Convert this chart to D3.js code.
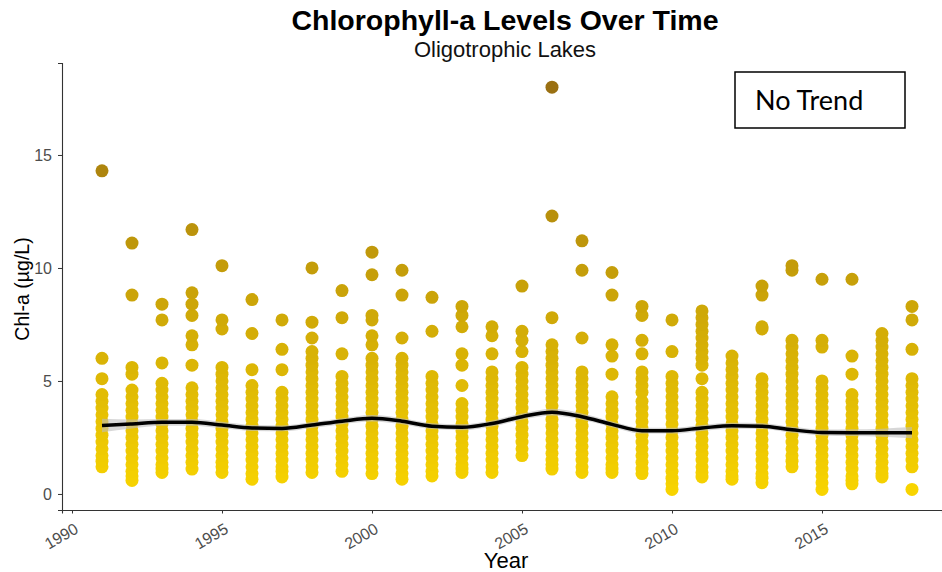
<!DOCTYPE html>
<html><head><meta charset="utf-8">
<script src="https://cdn.jsdelivr.net/npm/d3@7"></script>
<style>body{margin:0;background:#fff}svg{display:block}</style>
</head><body>
<svg id="chart" width="942" height="572"></svg>
<script>
// ---- data ----
const years = [1991,1992,1993,1994,1995,1996,1997,1998,1999,2000,2001,2002,2003,2004,2005,2006,2007,2008,2009,2010,2011,2012,2013,2014,2015,2016,2017,2018];
const chlValues = [
 /*1991*/[14.3,6.0,5.1,4.4,4.1,3.8,3.5,3.2,2.9,2.6,2.3,2.0,1.7,1.45,1.2],
 /*1992*/[11.1,8.8,5.6,5.3,4.6,4.3,4.0,3.7,3.4,3.1,2.8,2.5,2.2,1.9,1.6,1.3,1.0,0.8,0.6],
 /*1993*/[8.4,7.7,5.8,4.9,4.6,4.3,4.0,3.7,3.4,3.1,2.8,2.5,2.2,1.9,1.6,1.3,1.1,0.95],
 /*1994*/[11.7,8.9,8.4,7.9,7.0,6.6,5.7,4.7,4.4,4.1,3.8,3.5,3.2,2.9,2.6,2.3,2.0,1.7,1.4,1.1],
 /*1995*/[10.1,7.7,7.3,5.6,5.3,5.0,4.7,4.4,4.1,3.8,3.5,3.2,2.9,2.6,2.3,2.0,1.7,1.4,1.2,0.95],
 /*1996*/[8.6,7.1,5.5,4.8,4.5,4.2,3.9,3.6,3.3,3.0,2.7,2.4,2.1,1.8,1.5,1.2,0.9,0.65],
 /*1997*/[7.7,6.4,5.5,4.5,4.2,3.9,3.6,3.3,3.0,2.7,2.4,2.1,1.8,1.5,1.2,1.0,0.75],
 /*1998*/[10.0,7.6,6.9,6.3,6.0,5.7,5.4,5.1,4.8,4.5,4.2,3.9,3.6,3.3,3.0,2.7,2.4,2.1,1.8,1.5,1.2,0.95],
 /*1999*/[9.0,7.8,6.2,5.2,4.9,4.6,4.3,4.0,3.7,3.4,3.1,2.8,2.5,2.2,1.9,1.6,1.3,1.0],
 /*2000*/[10.7,9.7,7.9,7.7,7.0,6.6,6.0,5.7,5.4,5.1,4.8,4.5,4.2,3.9,3.6,3.3,3.0,2.7,2.4,2.1,1.8,1.5,1.2,0.9],
 /*2001*/[9.9,8.8,6.9,6.0,5.7,5.4,5.1,4.8,4.5,4.2,3.9,3.6,3.3,3.0,2.7,2.4,2.1,1.8,1.5,1.2,0.9,0.65],
 /*2002*/[8.7,7.2,5.2,4.9,4.6,4.3,4.0,3.7,3.4,3.1,2.8,2.5,2.2,1.9,1.6,1.3,1.0,0.8],
 /*2003*/[8.3,7.9,7.4,6.2,5.7,4.8,4.0,3.7,3.4,3.1,2.8,2.5,2.2,1.9,1.6,1.3,1.1,0.95],
 /*2004*/[7.4,7.0,6.2,5.4,5.1,4.8,4.5,4.2,3.9,3.6,3.3,3.0,2.7,2.4,2.1,1.8,1.5,1.2,0.95],
 /*2005*/[9.2,7.2,6.8,6.3,5.6,5.3,5.0,4.7,4.4,4.1,3.8,3.5,3.2,2.9,2.6,2.3,2.0,1.7],
 /*2006*/[18.0,12.3,7.8,6.6,6.3,6.0,5.7,5.4,5.1,4.8,4.5,4.2,3.9,3.6,3.3,3.0,2.7,2.4,2.1,1.8,1.5,1.3,1.1],
 /*2007*/[11.2,9.9,6.9,5.4,5.1,4.8,4.5,4.2,3.9,3.6,3.3,3.0,2.7,2.4,2.1,1.8,1.5,1.2,0.95],
 /*2008*/[9.8,8.8,6.6,6.1,5.3,4.3,4.0,3.7,3.4,3.1,2.8,2.5,2.2,1.9,1.6,1.3,1.1,0.95],
 /*2009*/[8.3,7.9,6.8,6.2,5.4,5.1,4.8,4.5,4.1,3.8,3.5,3.2,2.9,2.6,2.3,2.0,1.7,1.4,1.1,0.9],
 /*2010*/[7.7,6.3,5.2,4.9,4.6,4.3,4.0,3.7,3.4,3.1,2.8,2.5,2.2,1.9,1.6,1.3,1.0,0.7,0.45,0.2],
 /*2011*/[8.1,7.8,7.5,7.2,6.9,6.6,6.3,6.0,5.7,5.1,4.5,4.2,3.9,3.6,3.3,3.0,2.7,2.4,2.1,1.8,1.5,1.2,0.95,0.75],
 /*2012*/[6.1,5.8,5.5,5.2,4.9,4.6,4.3,4.0,3.7,3.4,3.1,2.8,2.5,2.2,1.9,1.6,1.3,1.0,0.8,0.65],
 /*2013*/[9.2,8.8,7.4,7.3,5.1,4.8,4.5,4.2,3.9,3.6,3.3,3.0,2.7,2.4,2.1,1.8,1.5,1.2,0.9,0.7,0.5],
 /*2014*/[10.1,9.9,6.8,6.5,6.2,5.9,5.6,5.3,5.0,4.7,4.4,4.1,3.8,3.5,3.2,2.9,2.6,2.3,2.0,1.7,1.45,1.2],
 /*2015*/[9.5,6.8,6.5,5.0,4.7,4.4,4.1,3.8,3.5,3.2,2.9,2.6,2.3,2.0,1.7,1.4,1.1,0.8,0.5,0.2],
 /*2016*/[9.5,6.1,5.3,4.4,4.1,3.8,3.5,3.2,2.9,2.6,2.3,2.0,1.7,1.4,1.1,0.8,0.6,0.45],
 /*2017*/[7.1,6.8,6.5,6.2,5.9,5.6,5.3,5.0,4.7,4.4,4.1,3.8,3.5,3.2,2.9,2.6,2.3,2.0,1.7,1.4,1.1,0.9,0.75],
 /*2018*/[8.3,7.7,6.4,5.1,4.8,4.5,4.2,3.9,3.6,3.3,3.0,2.7,2.4,2.1,1.8,1.5,1.2,0.2]
];
const trendValues = [3.03,3.1,3.17,3.17,3.05,2.92,2.9,3.05,3.22,3.35,3.22,3.0,2.95,3.12,3.42,3.62,3.42,3.08,2.8,2.8,2.92,3.02,3.0,2.84,2.72,2.71,2.71,2.71];
const trendSE = [0.3,0.2,0.15,0.15,0.14,0.13,0.13,0.13,0.13,0.14,0.13,0.13,0.13,0.13,0.14,0.15,0.14,0.13,0.13,0.13,0.13,0.13,0.13,0.13,0.13,0.15,0.18,0.25];
const xTicks = [1990,1995,2000,2005,2010,2015];
const yTicks = [0,5,10,15];
const titleText = "Chlorophyll-a Levels Over Time";
const subtitleText = "Oligotrophic Lakes";
const xLabel = "Year";
const yLabel = "Chl-a (µg/L)";
const noteText = "No Trend";

// ---- drawing ----
const svg = d3.select("#chart");
const mLeft = 62, mRight = 942, mTop = 63, mBottom = 510;
const x = d3.scaleLinear().domain([1989.667, 2019]).range([mLeft, mRight]);
const y = d3.scaleLinear().domain([-0.71, 19.07]).range([mBottom, mTop]);
const color = d3.scaleLinear().domain([0.2, 18]).range(["#F8D400", "#9A7012"]).interpolate(d3.interpolateRgb);
const FONT = "Liberation Sans, Arial, sans-serif";

const points = [];
years.forEach((yr, i) => chlValues[i].forEach(v => points.push({yr, v})));
points.sort((a, b) => a.v - b.v);

const band = years.map((yr, i) => ({yr, m: trendValues[i], s: trendSE[i]}));

const plot = svg.append("g");
plot.selectAll("circle").data(points).join("circle")
  .attr("cx", d => x(d.yr)).attr("cy", d => y(d.v)).attr("r", 6.5)
  .attr("fill", d => color(d.v));

plot.append("path").datum(band)
  .attr("d", d3.area().x(d => x(d.yr)).y0(d => y(d.m - d.s)).y1(d => y(d.m + d.s)).curve(d3.curveMonotoneX))
  .attr("fill", "#bdbdbd").attr("opacity", 0.6);
plot.append("path").datum(band)
  .attr("d", d3.line().x(d => x(d.yr)).y(d => y(d.m)).curve(d3.curveMonotoneX))
  .attr("fill", "none").attr("stroke", "#000").attr("stroke-width", 3.5);

// axes
const xAxis = svg.append("g").attr("transform", `translate(0,${mBottom})`)
  .call(d3.axisBottom(x).tickValues(xTicks).tickSize(3.5).tickFormat(d3.format("d")));
xAxis.select(".domain").attr("stroke", "#333").attr("stroke-width", 1.1);
xAxis.selectAll(".tick line").attr("stroke", "#333");
xAxis.selectAll(".tick text").attr("fill", "#4d4d4d").attr("font-size", 16)
  .attr("font-family", FONT)
  .attr("text-anchor", "end").attr("dy", null).attr("y", null)
  .attr("transform", "translate(7,22) rotate(-30)");

const yAxis = svg.append("g").attr("transform", `translate(${mLeft},0)`)
  .call(d3.axisLeft(y).tickValues(yTicks).tickSize(4));
yAxis.select(".domain").attr("stroke", "#333").attr("stroke-width", 1.1);
yAxis.selectAll(".tick line").attr("stroke", "#333");
yAxis.selectAll(".tick text").attr("fill", "#4d4d4d").attr("font-size", 16)
  .attr("font-family", FONT).attr("x", -10);

// titles
svg.append("text").attr("x", 505).attr("y", 30).attr("text-anchor", "middle")
  .attr("font-family", FONT).attr("font-weight", "bold")
  .attr("font-size", 28.5).attr("fill", "#000").text(titleText);
svg.append("text").attr("x", 505).attr("y", 57).attr("text-anchor", "middle")
  .attr("font-family", FONT)
  .attr("font-size", 22).attr("fill", "#111").text(subtitleText);
svg.append("text").attr("x", 506).attr("y", 568).attr("text-anchor", "middle")
  .attr("font-family", FONT)
  .attr("font-size", 22).attr("fill", "#000").text(xLabel);
svg.append("text").attr("transform", "translate(29,289) rotate(-90)").attr("text-anchor", "middle")
  .attr("font-family", FONT)
  .attr("font-size", 19.5).attr("fill", "#000").text(yLabel);

// note box
svg.append("rect").attr("x", 735).attr("y", 72).attr("width", 170).attr("height", 56)
  .attr("fill", "#fff").attr("stroke", "#000").attr("stroke-width", 1.5);
svg.append("text").attr("x", 755).attr("y", 110)
  .attr("font-family", "Lato, Open Sans, sans-serif").attr("font-size", 27)
  .attr("fill", "#000").text(noteText);
</script>
</body></html>
